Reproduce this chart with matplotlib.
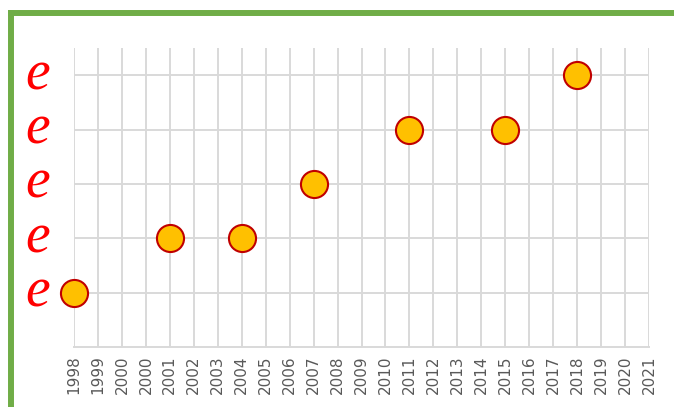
import matplotlib
matplotlib.use("Agg")
import matplotlib.pyplot as plt
from matplotlib.lines import Line2D

# --- Data ---
tick_labels = ["1998", "1999", "2000", "2000"] + [str(y) for y in range(2001, 2022)]
years = [1998, 2001, 2004, 2007, 2011, 2015, 2018]
levels = [1, 2, 2, 3, 4, 4, 5]
level_labels = ["e", "e", "e", "e", "e"]

# x position = first tick carrying that year
xpos = [tick_labels.index(str(y)) for y in years]

fig = plt.figure(figsize=(6.74, 4.07), dpi=100)
ax = fig.add_axes([74 / 674, 1 - 347 / 407, (649 - 74) / 674, (347 - 48) / 407])

grid_col = "#D9D9D9"
ax.set_xlim(0, len(tick_labels) - 1)
ax.set_ylim(0, 5.5)
ax.set_xticks(range(len(tick_labels)))
ax.set_xticklabels(tick_labels, rotation=90, fontsize=11, color="#595959")
ax.set_yticks(range(1, 6))
ax.set_yticklabels(level_labels, fontsize=40, color="#FF0000",
                   family="Liberation Serif", style="italic")
ax.tick_params(axis="x", length=0, pad=6)
ax.tick_params(axis="y", length=0, pad=17)
for lbl in ax.get_yticklabels():
    lbl.set_verticalalignment("center")

ax.grid(True, color=grid_col, linewidth=1.4)
ax.set_axisbelow(True)
for side in ["top", "right", "left"]:
    ax.spines[side].set_visible(False)
ax.spines["bottom"].set_color(grid_col)
ax.spines["bottom"].set_linewidth(1.4)

ax.plot(xpos, levels, linestyle="none", marker="o", markersize=19.5,
        markerfacecolor="#FFC000", markeredgecolor="#C00000",
        markeredgewidth=1.5, clip_on=False, zorder=5)

# green frame, cropped on right and bottom
green = "#70AD47"
fig.add_artist(Line2D([10.5 / 674, 10.5 / 674], [0, 1 - 10 / 407],
                      color=green, linewidth=4.3, transform=fig.transFigure,
                      solid_capstyle="butt"))
fig.add_artist(Line2D([8 / 674, 1], [1 - 12.5 / 407, 1 - 12.5 / 407],
                      color=green, linewidth=4.3, transform=fig.transFigure,
                      solid_capstyle="butt"))

fig.savefig("out.png", dpi=100)
